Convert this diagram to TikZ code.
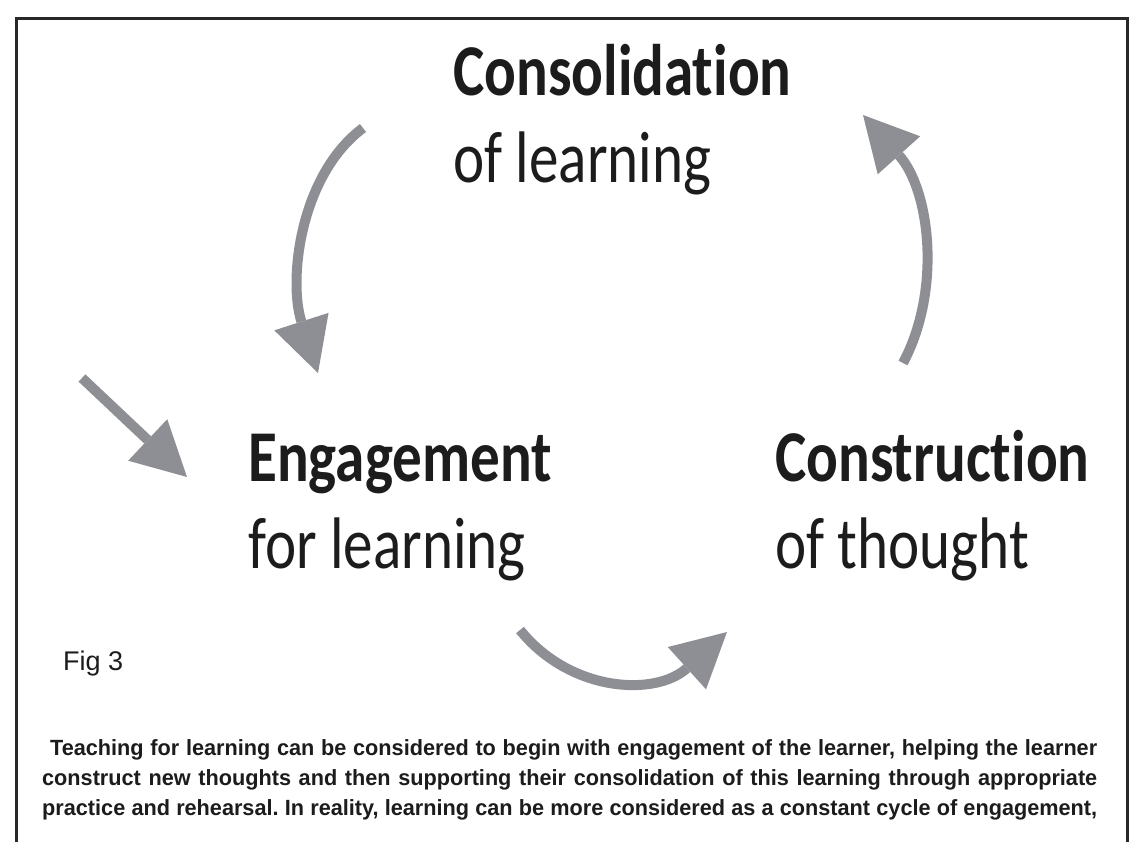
\documentclass[tikz,border=0pt]{standalone}
\usepackage{fontspec}
\usetikzlibrary{arrows.meta}
\newfontfamily\diagfont[FakeStretch=0.81,RawFeature={-liga;-dlig;-clig}]{Carlito}
\newfontfamily\capfont[FakeStretch=0.985]{Liberation Sans}
\newfontfamily\figfont{Liberation Sans}
\definecolor{arrowgray}{RGB}{142,143,148}
\definecolor{ink}{RGB}{28,28,28}
\definecolor{framecol}{RGB}{40,40,40}
\frenchspacing
\begin{document}
\begin{tikzpicture}[x=1pt,y=-1pt,
  lbl/.style={inner sep=0pt, anchor=base west, text=ink},
  headtxt/.style={lbl, font=\diagfont\bfseries\fontsize{73}{88}\selectfont},
  subtxt/.style={lbl, font=\diagfont\fontsize{73}{88}\selectfont},
  figtxt/.style={lbl, font=\figfont\fontsize{27}{32}\selectfont},
  captxt/.style={lbl, font=\capfont\bfseries\fontsize{22}{30}\selectfont},
  cyc/.style={draw=arrowgray, line width=10pt,
    -{Triangle[length=54pt,width=57pt,line width=0pt]}},
  framestyle/.style={draw=framecol, line width=3pt, line join=miter}
]
\useasboundingbox (0,0) rectangle (1130,841);
\fill[white] (0,0) rectangle (1130,841);

% frame
\coordinate (fbl) at (16,842);
\coordinate (ftl) at (16,18);
\coordinate (ftr) at (1127,18);
\coordinate (fbr) at (1127,842);
\draw[framestyle] (fbl) -- (ftl) -- (ftr) -- (fbr);

% stage labels
\node[headtxt] (cons) at (453,95) {Consolidation};
\node[subtxt] (consb) at (453,182) {of learning};
\node[headtxt] (eng) at (248,481) {Engagement};
\node[subtxt] (engb) at (248,568) {for learning};
\node[headtxt] (constr) at (775,481) {Construction};
\node[subtxt] (constrb) at (775,568) {of thought};

% cycle arrows
\coordinate (a0) at (82,378);  \coordinate (a1) at (187,477);
\draw[cyc] (a0) -- (a1);
\coordinate (b0) at (363,128); \coordinate (b1) at (318,373);
\draw[cyc] (b0) .. controls (300,175) and (288,280) .. (b1);
\coordinate (c0) at (520,630); \coordinate (c1) at (727,632);
\draw[cyc] (c0) .. controls (570,692) and (655,697) .. (c1);
\coordinate (d0) at (903,363); \coordinate (d1) at (863,115);
\draw[cyc] (d0) .. controls (942,290) and (930,190) .. (d1);

% figure label and caption
\node[figtxt] (fig) at (63,670) {Fig 3};
\node[captxt] (cap1) at (50,755) {\makebox[1047pt][s]{Teaching for learning can be considered to begin with engagement of the learner, helping the learner}};
\node[captxt] (cap2) at (42,785) {\makebox[1055pt][s]{construct new thoughts and then supporting their consolidation of this learning through appropriate}};
\node[captxt] (cap3) at (42,815) {\makebox[1055pt][s]{practice and rehearsal. In reality, learning can be more considered as a constant cycle of engagement,}};
\end{tikzpicture}
\end{document}
